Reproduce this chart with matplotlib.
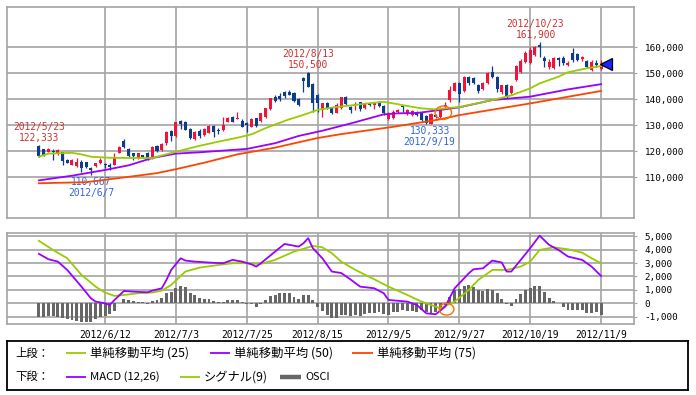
import numpy as np
import matplotlib
matplotlib.use("Agg")
import matplotlib.pyplot as plt
from matplotlib.patches import Ellipse

# ---------------- data ----------------
opens = [
    122052, 120770, 119744, 120129, 119103, 119487, 116539, 114488, 114232, 115898,
    115770, 113334, 114232, 115257, 114873, 114744, 114616, 119359, 123847, 120642,
    119103, 117180, 118462, 119359, 117180, 121923, 120386, 122950, 127693, 125770,
    131539, 131283, 128334, 124488, 127821, 126155, 127052, 129744, 128078, 128078,
    131283, 133206, 132180, 131667, 130642, 129360, 132565, 131500, 133200, 136000,
    140898, 141154, 142565, 142565, 142180, 140001, 147949, 150129, 145770, 141500,
    135770, 138590, 136411, 134744, 136411, 140898, 137052, 137565, 138719, 136668,
    138334, 137693, 138975, 137437, 132300, 132800, 135000, 137200, 134100, 133846,
    134872, 134730, 133462, 130385, 133846, 133200, 136800, 139600, 143200, 146000,
    143200, 148300, 147900, 145400, 143700, 146300, 150500, 148300, 142800, 145400,
    142200, 147300, 150500, 154400, 154000, 156900, 160600, 155600, 152400, 152000,
    155600, 155900, 153100, 157800, 157300, 155300, 154700, 151200, 153700, 151400]
highs = [
    122333, 120900, 121026, 120642, 120642, 119744, 116796, 116796, 117180, 116539,
    115898, 114000, 115513, 117180, 115513, 115257, 119103, 122052, 124488, 121026,
    119359, 119359, 118600, 119744, 121923, 122308, 122950, 127693, 128078, 131283,
    131924, 131539, 128719, 127693, 128462, 128719, 130001, 130001, 128975, 133206,
    133206, 133591, 135129, 132309, 131283, 132565, 132821, 134800, 136700, 140500,
    141539, 142180, 143206, 143462, 142565, 140257, 148590, 150500, 146026, 141800,
    138590, 138975, 136796, 138334, 140898, 141154, 137309, 138975, 138975, 138334,
    138590, 138975, 139360, 137693, 135100, 135700, 136200, 137500, 136300, 135600,
    135200, 135000, 133800, 134500, 134200, 137000, 138700, 145000, 146700, 146700,
    148700, 148700, 148300, 145700, 146700, 150500, 152700, 148700, 145500, 145700,
    145400, 153100, 155200, 158300, 160000, 160200, 161900, 156700, 155400, 156300,
    156200, 156500, 154500, 159500, 157700, 156500, 155000, 155000, 155000, 155000]
lows = [
    117821, 118078, 119487, 116539, 118334, 114616, 115257, 114488, 113975, 112052,
    113600, 110667, 113975, 115001, 113334, 112693, 114616, 119103, 121026, 117821,
    116539, 116796, 117600, 116539, 116796, 119744, 120129, 122308, 123847, 125513,
    128462, 128078, 124617, 124232, 125129, 125898, 126796, 125513, 126411, 127693,
    131026, 131026, 132180, 129360, 127437, 129103, 129360, 131283, 132800, 135700,
    138975, 139360, 140513, 141411, 138975, 137309, 142821, 144488, 135129, 135100,
    133206, 136026, 134232, 134488, 136026, 137693, 134744, 135770, 135513, 136283,
    137437, 136026, 137052, 133847, 131900, 132500, 134600, 135100, 133800, 133500,
    133500, 131500, 130500, 130333, 132700, 132700, 136500, 139000, 142900, 139000,
    142800, 145500, 145700, 142300, 143300, 145900, 147900, 142800, 142000, 140500,
    141800, 146900, 150100, 154000, 153500, 156500, 156300, 152400, 151600, 151600,
    152700, 153000, 152700, 154300, 154600, 154600, 152000, 150800, 152300, 151200]
closes = [
    118206, 118590, 120770, 119615, 120257, 116155, 115513, 116539, 115898, 113334,
    113719, 112693, 115257, 116539, 114488, 113975, 117180, 121410, 121410, 118078,
    118206, 119103, 117821, 117180, 121667, 120001, 122694, 127180, 125898, 131026,
    130386, 128078, 125129, 127437, 125898, 128334, 129616, 127437, 127693, 130001,
    132821, 131283, 132565, 129360, 130001, 132180, 129616, 134500, 136400, 140300,
    139360, 139873, 141154, 141667, 139360, 137693, 146924, 144744, 138590, 138300,
    138334, 136411, 134488, 137693, 140642, 138078, 135770, 137950, 136026, 137950,
    137693, 138590, 137309, 134488, 134300, 135100, 135800, 136800, 135770, 135385,
    133846, 131923, 130641, 134231, 132950, 136400, 137700, 143460, 146300, 142000,
    148300, 146000, 146000, 143200, 146300, 150100, 148300, 143700, 145300, 140900,
    145000, 152700, 154700, 157800, 158800, 159900, 160100, 154600, 154400, 155900,
    155000, 153700, 153700, 155000, 155000, 156000, 152400, 154400, 153100, 153500]

# moving averages (day index, value)
ma25_idx = [0, 2, 7, 9, 11, 15, 20, 24, 29, 34, 38, 42, 45, 48, 50, 53, 56, 59, 62, 66,
            70, 73, 76, 78, 81, 84, 87, 89, 96, 100, 104, 106, 110, 112, 116, 119]
ma25_val = [117800, 119000, 119300, 118700, 117800, 117400, 117300, 117300, 119700, 122000,
            123600, 125100, 126400, 128800, 130200, 132200, 133900, 135800, 136700, 137500,
            138400, 138900, 138000, 137300, 136400, 136000, 136600, 136900, 139600, 141400,
            144100, 146000, 148600, 150300, 151800, 152700]
ma50_idx = [0, 7, 14, 19, 24, 29, 34, 44, 50, 55, 60, 66, 73, 76, 80, 85, 89, 96, 104, 112, 119]
ma50_val = [108700, 110500, 112700, 114500, 117300, 119000, 119500, 120800, 123000, 125800,
            127800, 130600, 134100, 134500, 134600, 135800, 136800, 139600, 140900, 143700, 145700]
ma75_idx = [0, 10, 20, 25, 29, 35, 42, 50, 59, 64, 75, 85, 89, 104, 119]
ma75_val = [107600, 108000, 110300, 111500, 113000, 115500, 118700, 121300, 125000, 126500,
            129300, 132200, 133800, 138300, 143100]

# MACD pane
macd_idx = [0, 2, 4, 6, 9, 11, 12, 14, 15, 16, 18, 20, 23, 24, 26, 27, 28, 30, 31, 33, 36, 39,
            41, 43, 45, 46, 47, 50, 52, 55, 56, 57, 58, 60, 62, 64, 66, 68, 71, 73, 74, 78, 80,
            82, 84, 86, 88, 89, 91, 92, 94, 96, 98, 99, 100, 102, 104, 106, 108, 110, 112, 115,
            117, 119]
macd_val = [3690, 3290, 3110, 2490, 1245, 375, 125, 0, -125, 250, 920, 870, 820, 945, 1120, 1740,
            2490, 3360, 3190, 3110, 3040, 2990, 3240, 3110, 2910, 2740, 2990, 3860, 4430, 4230,
            4480, 4860, 4110, 3360, 2370, 2260, 1770, 1245, 1120, 750, 250, 125, -125, -750,
            -820, -250, 1120, 1490, 2240, 2540, 2610, 3190, 3040, 2370, 2370, 3240, 4110, 5050,
            4360, 3980, 3490, 3240, 2740, 2040]
signal_idx = [0, 3, 6, 9, 12, 14, 16, 18, 21, 24, 26, 28, 31, 34, 38, 41, 44, 47, 50, 54, 58,
              60, 62, 64, 67, 71, 74, 78, 81, 85, 88, 91, 93, 96, 99, 102, 104, 106, 109, 112,
              115, 117, 119]
signal_val = [4660, 3980, 3360, 2120, 1245, 800, 550, 620, 750, 800, 945, 1370, 2370, 2660, 2860,
              2990, 2990, 2940, 3240, 3860, 4280, 4180, 3740, 3110, 2490, 1790, 1245, 620, 125,
              -375, 125, 1000, 1740, 2490, 2490, 2740, 3110, 3980, 4180, 4030, 3780, 3360, 2990]
osci = [
    -1000, -1000, -920, -920, -1000, -1120, -1170, -1245, -1320, -1420,
    -1420, -1370, -1170, -1000, -920, -820, -550, 50, 320, 250,
    175, 125, 75, -75, 175, 250, 375, 800, 870, 1170,
    1320, 1200, 800, 620, 420, 320, 320, 175, 75, 125,
    250, 250, 250, 75, -75, -75, -250, -30, 250, 550,
    620, 750, 800, 800, 500, 320, 620, 620, 250, -250,
    -550, -870, -1120, -1120, -850, -900, -950, -870, -920, -820,
    -700, -750, -620, -820, -870, -650, -620, -500, -550, -550,
    -620, -500, -620, -700, -620, -375, -125, 500, 1000, 1050,
    1300, 1370, 1245, 1000, 945, 1050, 1000, 750, 320, -75,
    -175, 320, 700, 1000, 1120, 1300, 1300, 870, 420, 175,
    30, -250, -500, -500, -500, -500, -700, -700, -620, -870]

tick_idx = [14, 29, 44, 59, 74, 89, 104, 119]
tick_labels = ["2012/6/12", "2012/7/3", "2012/7/25", "2012/8/15",
               "2012/9/5", "2012/9/27", "2012/10/19", "2012/11/9"]
price_ticks = [110000, 120000, 130000, 140000, 150000, 160000]
macd_ticks = [-1000, 0, 1000, 2000, 3000, 4000, 5000]

# annotations: (day index, date text, x nudge)
hi_notes = [(0, "2012/5/23", 0), (57, "2012/8/13", 0), (106, "2012/10/23", -3)]
lo_notes = [(11, "2012/6/7", 0), (83, "2012/9/19", -1)]

# ---------------- style ----------------
W, H = 696, 395
RED = "#f0143c"
BLUE = "#0d3b8e"
GRID = "#a3a3a3"
C25 = "#99cc00"
C50 = "#9900ff"
C75 = "#ff4400"
MONO = "DejaVu Sans Mono"
JP = ["Noto Sans CJK JP", "DejaVu Sans"]

fig = plt.figure(figsize=(W / 100, H / 100), dpi=100)
fig.patch.set_facecolor("white")


def px_axes(x0, y0, x1, y1):
    return fig.add_axes([x0 / W, 1 - y1 / H, (x1 - x0) / W, (y1 - y0) / H])


ax1 = px_axes(6.7, 7.3, 634.3, 218.3)
ax2 = px_axes(6.7, 233.3, 634.3, 324.0)
ax3 = px_axes(6.5, 341, 688, 390)

XLIM = (-6.82, 126.04)

for ax in (ax1, ax2):
    ax.set_xlim(*XLIM)
    for s in ax.spines.values():
        s.set_color(GRID)
        s.set_linewidth(1.2)
    ax.set_facecolor("white")

# ---------------- top panel ----------------
ax1.set_ylim(94118, 175269)
for t in price_ticks:
    ax1.axhline(t, color=GRID, lw=1.2, zorder=0)
for t in tick_idx:
    ax1.axvline(t, color=GRID, lw=1.2, zorder=0)

o = np.array(opens, float)
h = np.array(highs, float)
l = np.array(lows, float)
c = np.array(closes, float)
x = np.arange(len(c))
col = np.where(c >= o, RED, BLUE)
ax1.vlines(x, l, h, colors=col, lw=0.9, zorder=2)
ax1.bar(x, np.maximum(np.abs(c - o), 380), bottom=np.minimum(o, c), width=0.64,
        color=col, linewidth=0, zorder=3)

ax1.plot(ma75_idx, ma75_val, color=C75, lw=1.3, zorder=4)
ax1.plot(ma50_idx, ma50_val, color=C50, lw=1.3, zorder=4)
ax1.plot(ma25_idx, ma25_val, color=C25, lw=1.3, zorder=4)

# last price marker
ax1.plot([x[-1] + 1.15], [c[-1]], marker="<", ms=9, mfc="#1428ff", mec="black",
         mew=0.9, zorder=6, clip_on=False)

# golden-cross circle
ax1.add_patch(Ellipse((85.6, 134730), 3.5, 5130, fill=False, ec="#ff6a00", lw=1.0, zorder=5))

for i, d, dx in hi_notes:
    ax1.annotate(f"{highs[i]:,}", (i, highs[i]), xytext=(dx, 4.8), textcoords="offset points",
                 ha="center", va="center", fontsize=6.9, family=MONO, color="#cc3333")
    ax1.annotate(d, (i, highs[i]), xytext=(dx, 12.8), textcoords="offset points",
                 ha="center", va="center", fontsize=6.9, family=MONO, color="#cc3333")
for i, d, dx in lo_notes:
    ax1.annotate(f"{lows[i]:,}", (i, lows[i]), xytext=(dx, -4.8), textcoords="offset points",
                 ha="center", va="center", fontsize=6.9, family=MONO, color="#3366dd")
    ax1.annotate(d, (i, lows[i]), xytext=(dx, -12.8), textcoords="offset points",
                 ha="center", va="center", fontsize=6.9, family=MONO, color="#3366dd")

ax1.yaxis.tick_right()
ax1.set_yticks(price_ticks)
ax1.set_yticklabels([f"{v:,}" for v in price_ticks], family=MONO, fontsize=6.7)
ax1.tick_params(axis="y", length=2.5, color=GRID, pad=5)
ax1.set_xticks([])

# ---------------- MACD panel ----------------
ax2.set_ylim(-1545, 5224)
for t in macd_ticks:
    ax2.axhline(t, color=GRID, lw=1.2, zorder=0)
for t in tick_idx:
    ax2.axvline(t, color=GRID, lw=1.2, zorder=0)
ax2.bar(x, osci, width=0.62, color="#666666", linewidth=0, zorder=2)
ax2.plot(signal_idx, signal_val, color=C25, lw=1.3, zorder=3)
ax2.plot(macd_idx, macd_val, color=C50, lw=1.3, zorder=4)
ax2.add_patch(Ellipse((86.3, -440), 3.1, 880, fill=False, ec="#ff6a00", lw=1.0, zorder=5))

ax2.yaxis.tick_right()
ax2.set_yticks(macd_ticks)
ax2.set_yticklabels([f"{v:,}" for v in macd_ticks], family=MONO, fontsize=6.7)
ax2.tick_params(axis="y", length=2.5, color=GRID, pad=5)
ax2.set_xticks(tick_idx)
ax2.set_xticklabels(tick_labels, family=MONO, fontsize=6.9)
ax2.tick_params(axis="x", length=0, pad=4)

# ---------------- legend box ----------------
ax3.set_xlim(6.5, 688)
ax3.set_ylim(390, 341)
ax3.set_xticks([])
ax3.set_yticks([])
for s in ax3.spines.values():
    s.set_color("black")
    s.set_linewidth(1.3)

r1, r2 = 353, 377
ax3.text(15, r1, "上段：", family=JP, fontsize=8.2, va="center", ha="left")
ax3.text(15, r2, "下段：", family=JP, fontsize=8.2, va="center", ha="left")
legend_rows = [
    (r1, 66, 86, C25, 1.3, "単純移動平均 (25)", 8.9),
    (r1, 210, 230, C50, 1.3, "単純移動平均 (50)", 8.9),
    (r1, 352, 373, C75, 1.3, "単純移動平均 (75)", 8.9),
    (r2, 66, 86, C50, 1.3, "MACD (12,26)", 8.2),
    (r2, 180, 200, C25, 1.3, "シグナル(9)", 8.8),
    (r2, 280, 301, "#666666", 3.2, "OSCI", 7.8),
]
for yy, xa, xb, cc, lw, label, fs in legend_rows:
    ax3.plot([xa, xb], [yy, yy], color=cc, lw=lw, solid_capstyle="butt")
    ax3.text(xb + 4, yy, label, family=JP, fontsize=fs, va="center", ha="left")

fig.savefig("out.png", dpi=100, facecolor="white")
